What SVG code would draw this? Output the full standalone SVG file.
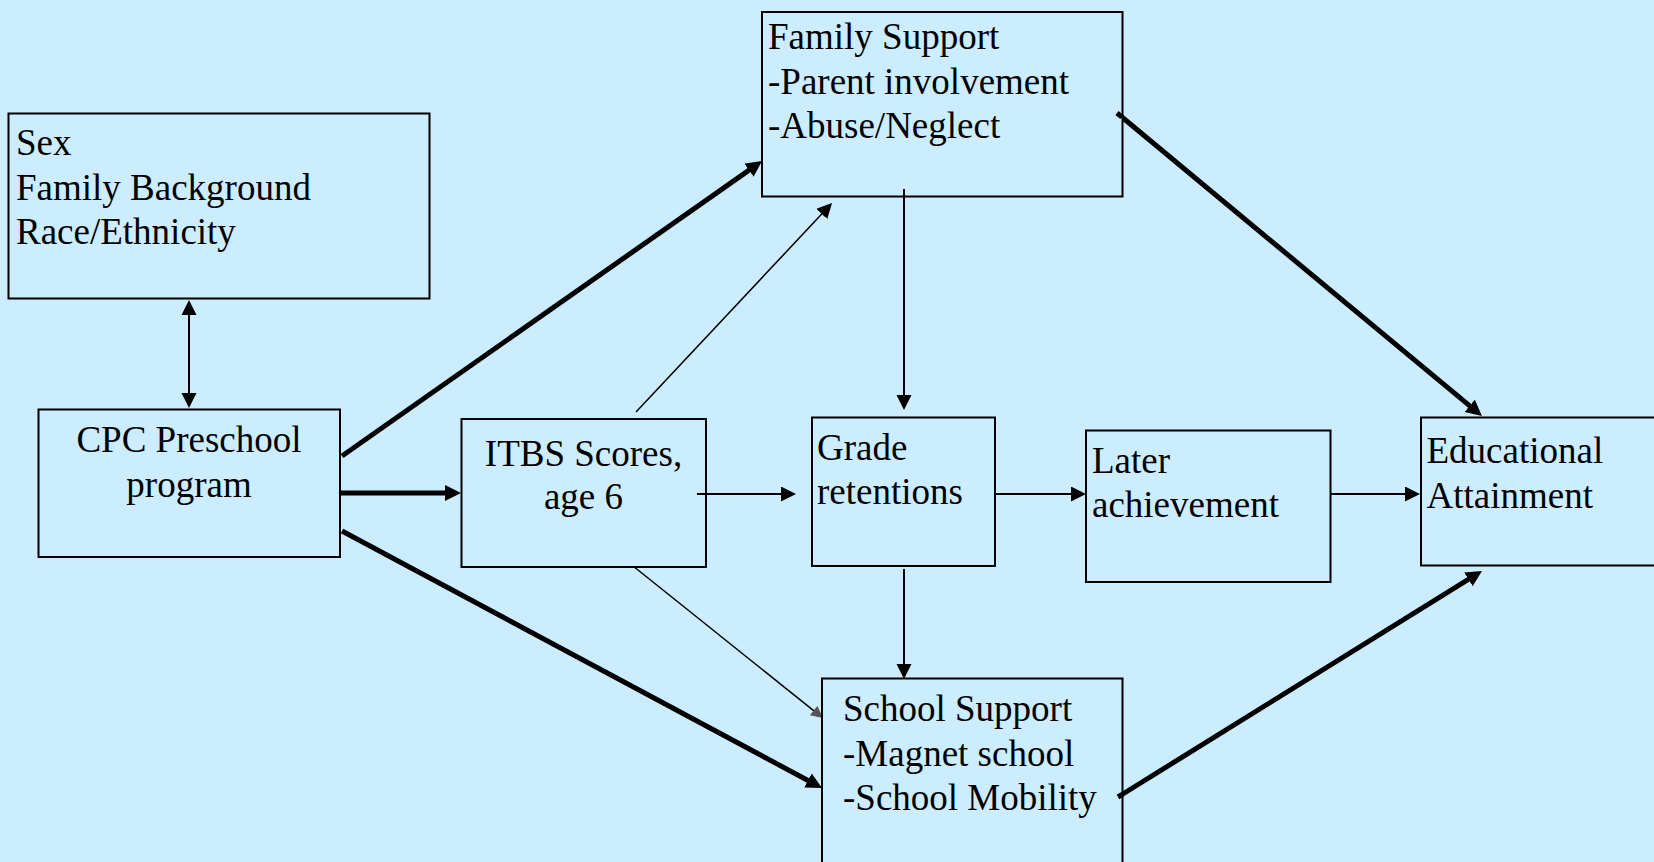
<svg xmlns="http://www.w3.org/2000/svg" width="1654" height="862" viewBox="0 0 1654 862">
<style>
.box{fill:#CCECFF;stroke:#000;stroke-width:2}
.t{font-family:"Liberation Serif","Times New Roman",serif;font-size:37px;fill:#000}
.c{text-anchor:middle}
.thick{stroke:#000;stroke-width:5;fill:none}
.thin{stroke:#000;stroke-width:2;fill:none}
.hair{stroke:#000;stroke-width:1.5;fill:none}
</style>
<defs>
<marker id="ah" markerUnits="userSpaceOnUse" markerWidth="17" markerHeight="17" refX="8" refY="8" orient="auto"><path d="M0,0 L16,8 L0,16 z" fill="#000"/></marker>
<marker id="as" markerUnits="userSpaceOnUse" markerWidth="16" markerHeight="16" refX="7.5" refY="7.5" orient="auto-start-reverse"><path d="M0,0 L15,7.5 L0,15 z" fill="#000"/></marker>
<marker id="ag" markerUnits="userSpaceOnUse" markerWidth="14" markerHeight="14" refX="6" refY="6" orient="auto"><path d="M0,0 L12,6 L0,12 z" fill="#555"/></marker>
</defs>
<rect x="0" y="0" width="1654" height="862" fill="#CCECFF"/>

<g id="connectors">
<line class="thin" x1="189" y1="307.5" x2="189" y2="400.5" marker-start="url(#as)" marker-end="url(#as)"/>
<line class="thick" x1="340" y1="493" x2="453" y2="493" marker-end="url(#ah)"/>
<line class="thick" x1="342" y1="456" x2="755.5" y2="165.6" marker-end="url(#ah)"/>
<line class="thick" x1="342" y1="531" x2="815" y2="784.2" marker-end="url(#ah)"/>
<line class="thick" x1="1117" y1="113" x2="1475.8" y2="410.9" marker-end="url(#ah)"/>
<line class="thick" x1="1118" y1="797" x2="1475.2" y2="575.2" marker-end="url(#ah)"/>
<line class="thin" x1="697" y1="494" x2="788.5" y2="494" marker-end="url(#as)"/>
<line class="thin" x1="995" y1="494" x2="1078.5" y2="494" marker-end="url(#as)"/>
<line class="thin" x1="1331" y1="494" x2="1412.5" y2="494" marker-end="url(#as)"/>
<line class="thin" x1="904" y1="189" x2="904" y2="402.5" marker-end="url(#as)"/>
<line class="thin" x1="904" y1="569" x2="904" y2="671.5" marker-end="url(#as)"/>
<line class="hair" x1="636" y1="412" x2="826.9" y2="208.5" marker-end="url(#as)"/>
<line class="hair" x1="633" y1="566" x2="818.3" y2="714.3" marker-end="url(#ag)"/>
</g>

<g id="node-sex">
<rect class="box" x="8.5" y="113.5" width="421" height="185"/>
<text class="t" x="16" y="155">Sex</text>
<text class="t" x="16" y="199.5">Family Background</text>
<text class="t" x="16" y="244">Race/Ethnicity</text>
</g>

<g id="node-cpc">
<rect class="box" x="38.5" y="409.5" width="301.5" height="147.5"/>
<text class="t c" x="189" y="451.5">CPC Preschool</text>
<text class="t c" x="189" y="496.5">program</text>
</g>

<g id="node-itbs">
<rect class="box" x="461.5" y="419" width="244.5" height="148"/>
<text class="t c" x="583.5" y="466">ITBS Scores,</text>
<text class="t c" x="583.5" y="509">age 6</text>
</g>
<line class="thin" x1="697" y1="494" x2="706" y2="494" stroke="#666"/>

<g id="node-family">
<rect class="box" x="762" y="12" width="360.5" height="184.5"/>
<text class="t" x="768" y="48.5">Family Support</text>
<text class="t" x="768" y="93.5">-Parent involvement</text>
<text class="t" x="768" y="137.5">-Abuse/Neglect</text>
</g>
<line class="thin" x1="904" y1="189" x2="904" y2="197"/>
<line class="thick" x1="1117" y1="113" x2="1122" y2="117.2"/>

<g id="node-grade">
<rect class="box" x="812" y="417.5" width="183" height="148.5"/>
<text class="t" x="817" y="459.5">Grade</text>
<text class="t" x="817" y="504">retentions</text>
</g>

<g id="node-later">
<rect class="box" x="1086" y="430.5" width="244.5" height="151.5"/>
<text class="t" x="1092" y="472.5">Later</text>
<text class="t" x="1092" y="517">achievement</text>
</g>

<g id="node-edu">
<rect class="box" x="1421" y="417.5" width="300" height="148"/>
<text class="t" x="1426.5" y="463">Educational</text>
<text class="t" x="1426.5" y="508">Attainment</text>
</g>

<g id="node-school">
<rect class="box" x="822" y="678.5" width="300.5" height="220"/>
<text class="t" x="843" y="721">School Support</text>
<text class="t" x="843" y="765.5">-Magnet school</text>
<text class="t" x="843" y="810">-School Mobility</text>
</g>
<line class="thick" x1="1118" y1="797" x2="1123" y2="794"/>
</svg>
